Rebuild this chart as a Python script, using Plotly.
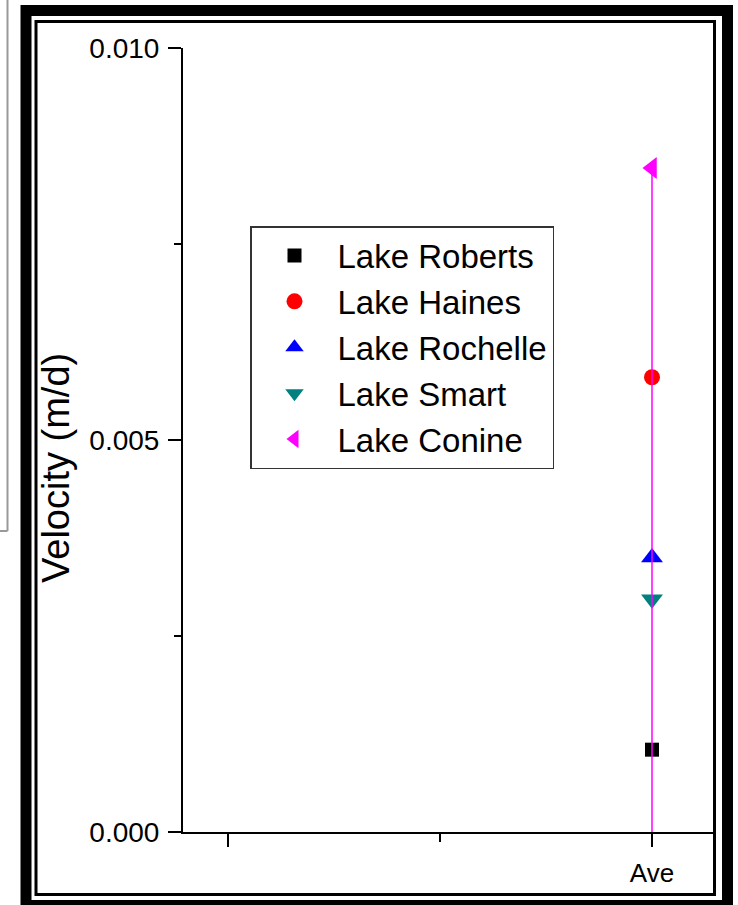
import plotly.graph_objects as go

# ---- data ----
categories = ["Ave"]
series_names = ["Lake Roberts", "Lake Haines", "Lake Rochelle", "Lake Smart", "Lake Conine"]
series_values = [0.00105, 0.0058, 0.0035, 0.00297, 0.00847]
series_colors = ["#000000", "#ff0000", "#0000ff", "#008080", "#ff00ff"]
series_symbols = ["square", "circle", "triangle-up", "triangle-down", "triangle-left"]
series_sizes = [14, 16, 19, 19, 19]
x_tick_vals = [0, 1]
x_tick_text = ["", "Ave"]
y_tick_vals = [0, 0.005, 0.010]
y_tick_text = ["0.000", "0.005", "0.010"]

W, H = 738, 905
L, R, T, B = 183, 714, 48, 832  # plot area pixel box


def px(x):
    return (x - L) / (R - L)


def py(y):
    return (B - y) / (B - T)


FONT = "Arial, Liberation Sans, sans-serif"
fig = go.Figure()

xpos = 1  # position of the 'Ave' category
for i, name in enumerate(series_names):
    err = None
    if name == "Lake Conine":
        err = dict(type="data", symmetric=False, array=[0], arrayminus=[series_values[i]],
                   width=0, thickness=1.5, color=series_colors[i])
    fig.add_trace(go.Scatter(
        x=[xpos], y=[series_values[i]], mode="markers", name=name,
        marker=dict(symbol=series_symbols[i], color=series_colors[i], size=series_sizes[i],
                    line=dict(width=0)),
        error_y=err,
    ))

shapes = []
# partial grey box at far left
shapes.append(dict(type="line", xref="paper", yref="paper", x0=px(7.5), x1=px(7.5), y0=py(0), y1=py(531),
                   line=dict(color="#999999", width=2)))
shapes.append(dict(type="line", xref="paper", yref="paper", x0=px(0), x1=px(7.5), y0=py(531), y1=py(531),
                   line=dict(color="#999999", width=2)))
# outer thick frame
shapes.append(dict(type="rect", xref="paper", yref="paper", x0=px(26), x1=px(727.5), y0=py(10.5), y1=py(905.5),
                   line=dict(color="black", width=11), layer="above"))
# inner thin frame
shapes.append(dict(type="rect", xref="paper", yref="paper", x0=px(36), x1=px(714.5), y0=py(21.5), y1=py(894.5),
                   line=dict(color="black", width=3), layer="above"))

fig.update_layout(
    width=W, height=H,
    margin=dict(l=L, r=W - R, t=T, b=H - B, pad=0),
    paper_bgcolor="white", plot_bgcolor="white",
    font=dict(family=FONT, color="black"),
    showlegend=True,
    legend=dict(x=px(250), y=py(226), xanchor="left", yanchor="top",
                bgcolor="white", bordercolor="#333333", borderwidth=1.5,
                font=dict(size=33, family=FONT), itemwidth=76, tracegroupgap=0),
    shapes=shapes,
    xaxis=dict(range=[-45 / 424, 1 + 62 / 424], tickmode="array", tickvals=x_tick_vals,
               ticktext=x_tick_text, ticks="outside", ticklen=13, tickwidth=2, tickcolor="black",
               showline=True, linecolor="black", linewidth=2, showgrid=False, zeroline=False,
               tickfont=dict(size=26), ticklabelstandoff=4,
               minor=dict(tickvals=[0.5], ticks="outside", ticklen=8, tickwidth=2, tickcolor="black",
                          showgrid=False)),
    yaxis=dict(range=[0, 0.010], tickmode="array", tickvals=y_tick_vals, ticktext=y_tick_text,
               ticks="outside", ticklen=13, tickwidth=2, tickcolor="black",
               showline=True, linecolor="black", linewidth=2, showgrid=False, zeroline=False,
               tickfont=dict(size=28), ticklabelstandoff=3,
               minor=dict(tickvals=[0.0025, 0.0075], ticks="outside", ticklen=7, tickwidth=2,
                          tickcolor="black", showgrid=False)),
    annotations=[dict(text="Velocity (m/d)", xref="paper", yref="paper", x=px(56), y=py(468),
                      xanchor="center", yanchor="middle", textangle=-90, showarrow=False,
                      font=dict(size=38, family=FONT, color="black"))],
)

fig.write_html("out.html")
